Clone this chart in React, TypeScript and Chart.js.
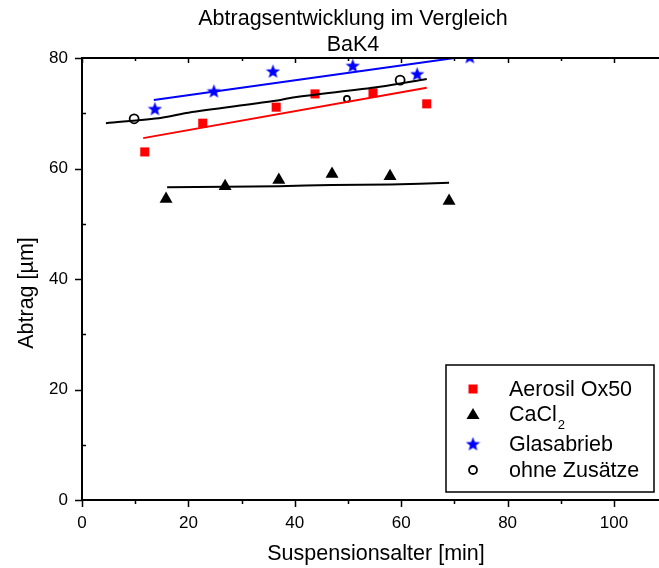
import React, { useEffect, useRef } from "react";
import { Chart, registerables } from "chart.js";

Chart.register(...registerables);

const titleLines = ["Abtragsentwicklung im Vergleich", "BaK4"];
const xTitle = "Suspensionsalter [min]";
const yTitle = "Abtrag [µm]";

const aerosilX = [11.8, 22.7, 36.5, 43.8, 54.7, 64.8];
const aerosilY = [63.0, 68.2, 71.1, 73.5, 73.7, 71.7];
const aerosilFitX = [11.5, 64.8];
const aerosilFitY = [65.5, 74.6];

const cacl2X = [15.8, 26.9, 37.0, 47.0, 57.9, 69.0];
const cacl2Y = [54.5, 56.8, 57.9, 59.0, 58.6, 54.1];
const cacl2FitX = [16, 27, 37, 47, 58, 69];
const cacl2FitY = [56.6, 56.7, 56.8, 57.0, 57.1, 57.4];

const glasX = [13.7, 24.8, 35.9, 50.9, 63.0, 72.9];
const glasY = [70.8, 74.0, 77.6, 78.6, 77.1, 80.2];
const glasFitX = [13.5, 73];
const glasFitY = [72.4, 80.4];

const ohneX = [9.8, 49.8, 59.8];
const ohneY = [69.0, 72.6, 76.0];
const ohneR = [4.5, 3, 4.5];
const ohneFitX = [4.5, 15, 20, 36, 40, 56, 64.8];
const ohneFitY = [68.2, 69.2, 70.1, 72.2, 72.9, 74.8, 76.2];

const xTickValues = [0, 20, 40, 60, 80, 100];
const yTickValues = [0, 20, 40, 60, 80];

const legendLabels = ["Aerosil Ox50", "CaCl", "Glasabrieb", "ohne Zusätze"];

const X_MIN = 0;
const X_MAX = 108.46;
const Y_MIN = 0;
const Y_MAX = 80;

const FONT = "'Liberation Sans', Arial, sans-serif";
const BIG = 21.5;
const TICK = 17;

const zip = (xs: number[], ys: number[]) => xs.map((x, i) => ({ x, y: ys[i] }));

function makeStar(size: number, color: string): HTMLCanvasElement {
  const c = document.createElement("canvas");
  c.width = size;
  c.height = size;
  const ctx = c.getContext("2d")!;
  const cx = size / 2;
  const cy = size / 2 + 0.5;
  const ro = size / 2;
  const ri = ro * 0.42;
  ctx.beginPath();
  for (let i = 0; i < 10; i++) {
    const r = i % 2 === 0 ? ro : ri;
    const a = -Math.PI / 2 + (i * Math.PI) / 5;
    const px = cx + r * Math.cos(a);
    const py = cy + r * Math.sin(a);
    if (i === 0) ctx.moveTo(px, py);
    else ctx.lineTo(px, py);
  }
  ctx.closePath();
  ctx.fillStyle = color;
  ctx.fill();
  return c;
}

const overlayPlugin = {
  id: "overlay",
  afterDraw(chart: any) {
    const ctx = chart.ctx as CanvasRenderingContext2D;
    const area = chart.chartArea;
    const xs = chart.scales.x;
    const ys = chart.scales.y;
    ctx.save();
    ctx.fillStyle = "#000";
    ctx.strokeStyle = "#000";
    ctx.font = `${BIG}px ${FONT}`;
    ctx.textAlign = "center";
    ctx.textBaseline = "middle";
    ctx.fillText(titleLines[0], 353, 19);
    ctx.fillText(titleLines[1], 353, 45);
    ctx.fillText(xTitle, 376, 554);
    ctx.save();
    ctx.translate(27, 293);
    ctx.rotate(-Math.PI / 2);
    ctx.fillText(yTitle, 0, 0);
    ctx.restore();
    // x tick labels
    ctx.font = `${TICK}px ${FONT}`;
    for (const v of xTickValues) {
      ctx.fillText(String(v), xs.getPixelForValue(v), area.bottom + 23);
    }
    // top axis line
    ctx.lineWidth = 2;
    ctx.beginPath();
    ctx.moveTo(area.left - 1, area.top);
    ctx.lineTo(area.right, area.top);
    ctx.stroke();
    // ticks
    ctx.lineWidth = 1.5;
    for (let v = 0; v <= X_MAX; v += 10) {
      const px = Math.round(xs.getPixelForValue(v)) + 0.5;
      const major = v % 20 === 0;
      ctx.beginPath();
      ctx.moveTo(px, area.bottom);
      ctx.lineTo(px, area.bottom + (major ? 7 : 4));
      ctx.moveTo(px, area.top);
      ctx.lineTo(px, area.top + (major ? 5 : 3));
      ctx.stroke();
    }
    for (let v = 0; v <= Y_MAX; v += 10) {
      const py = Math.round(ys.getPixelForValue(v)) + 0.5;
      const major = v % 20 === 0;
      ctx.beginPath();
      if (major) {
        ctx.moveTo(area.left, py);
        ctx.lineTo(area.left - 7, py);
      } else {
        ctx.moveTo(area.left, py);
        ctx.lineTo(area.left + 4, py);
      }
      ctx.stroke();
    }
    // legend
    const lx = 446, ly = 365, lw = 208, lh = 127;
    ctx.lineWidth = 1.5;
    ctx.strokeRect(lx, ly, lw, lh);
    const rows = [389, 414, 444, 470];
    const mx = 473;
    const tx = 509;
    ctx.font = `${BIG}px ${FONT}`;
    ctx.textAlign = "left";
    ctx.textBaseline = "middle";
    ctx.fillStyle = "#ff0000";
    ctx.fillRect(mx - 4.5, rows[0] - 4.5, 9, 9);
    ctx.fillStyle = "#000";
    ctx.beginPath();
    ctx.moveTo(mx, rows[1] - 6);
    ctx.lineTo(mx + 6.5, rows[1] + 5);
    ctx.lineTo(mx - 6.5, rows[1] + 5);
    ctx.closePath();
    ctx.fill();
    ctx.drawImage(makeStar(15, "#0000ff"), mx - 7.5, rows[2] - 7.5);
    ctx.lineWidth = 1.8;
    ctx.beginPath();
    ctx.arc(mx, rows[3], 4, 0, Math.PI * 2);
    ctx.stroke();
    ctx.fillStyle = "#000";
    ctx.fillText(legendLabels[0], tx, rows[0] + 1);
    ctx.fillText(legendLabels[1], tx, rows[1] + 1);
    const w = ctx.measureText(legendLabels[1]).width;
    ctx.font = `13px ${FONT}`;
    ctx.fillText("2", tx + w + 1, rows[1] + 11);
    ctx.font = `${BIG}px ${FONT}`;
    ctx.fillText(legendLabels[2], tx, rows[2] + 1);
    ctx.fillText(legendLabels[3], tx, rows[3] + 1);
    ctx.restore();
  },
};

export default function App() {
  const ref = useRef<HTMLCanvasElement | null>(null);
  useEffect(() => {
    if (!ref.current) return;
    const star = makeStar(15, "#0000ff");
    const lineDs = (xs: number[], ys: number[], color: string, tension = 0) => ({
      type: "line" as const,
      data: zip(xs, ys),
      borderColor: color,
      borderWidth: 2,
      pointRadius: 0,
      showLine: true,
      fill: false,
      tension,
      clip: 0,
    });
    const chart = new Chart(ref.current, {
      type: "scatter",
      data: {
        datasets: [
          lineDs(aerosilFitX, aerosilFitY, "#ff0000"),
          lineDs(cacl2FitX, cacl2FitY, "#000000", 0.3),
          lineDs(glasFitX, glasFitY, "#0000ff"),
          lineDs(ohneFitX, ohneFitY, "#000000", 0.3),
          {
            data: zip(aerosilX, aerosilY),
            pointStyle: "rect",
            pointRadius: 6.4,
            backgroundColor: "#ff0000",
            borderColor: "#ff0000",
            borderWidth: 0,
            clip: 0,
          } as any,
          {
            data: zip(cacl2X, cacl2Y),
            pointStyle: "triangle",
            pointRadius: 7.5,
            backgroundColor: "#000000",
            borderColor: "#000000",
            borderWidth: 0,
            clip: 0,
          } as any,
          {
            data: zip(glasX, glasY),
            pointStyle: star,
            pointRadius: 7,
            clip: 0,
          } as any,
          {
            data: zip(ohneX, ohneY),
            pointStyle: "circle",
            pointRadius: ohneR,
            backgroundColor: "rgba(255,255,255,0)",
            borderColor: "#000000",
            borderWidth: 1.8,
            clip: 0,
          } as any,
        ],
      },
      options: {
        animation: false,
        responsive: false,
        maintainAspectRatio: false,
        layout: { autoPadding: false, padding: { top: 58, left: 0, right: 0, bottom: 0 } },
        plugins: {
          legend: { display: false },
          tooltip: { enabled: false },
          title: { display: false },
        },
        scales: {
          x: {
            type: "linear",
            min: X_MIN,
            max: X_MAX,
            grid: { display: false, drawTicks: false },
            border: { display: true, color: "#000", width: 2 },
            ticks: { display: false },
            afterFit: (s: any) => {
              s.height = 68;
            },
          },
          y: {
            type: "linear",
            min: Y_MIN,
            max: Y_MAX,
            grid: { display: false, drawTicks: false },
            border: { display: true, color: "#000", width: 2 },
            ticks: {
              autoSkip: false,
              color: "#000",
              padding: 14,
              font: { family: FONT, size: TICK },
            },
            afterBuildTicks: (s: any) => {
              s.ticks = yTickValues.map((v) => ({ value: v }));
            },
            afterFit: (s: any) => {
              s.width = 82;
            },
          },
        },
      } as any,
      plugins: [overlayPlugin],
    });
    return () => chart.destroy();
  }, []);
  return (
    <div style={{ position: "fixed", left: 0, top: 0, width: 659, height: 568, background: "#fff" }}>
      <canvas ref={ref} width={659} height={568} style={{ width: 659, height: 568, display: "block" }} />
    </div>
  );
}
